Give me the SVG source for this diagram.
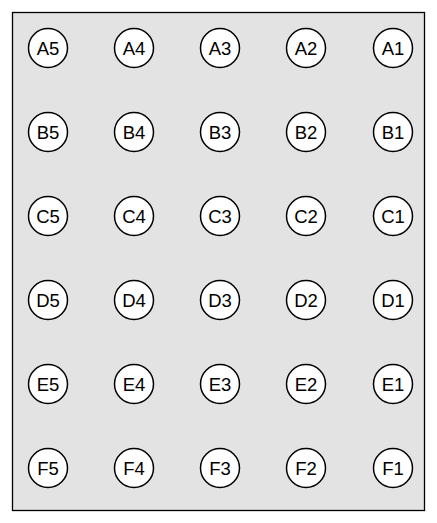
<svg xmlns="http://www.w3.org/2000/svg" width="437" height="523" viewBox="0 0 437 523">
<style>
.n circle{fill:#fff;stroke:#000;stroke-width:1.5}
.n text{font-family:"Liberation Sans",Arial,sans-serif;font-size:18.5px;fill:#000;text-anchor:middle;dominant-baseline:central}
</style>
<rect x="12.5" y="12.5" width="412" height="498" fill="#e3e3e3" stroke="#000" stroke-width="1.3"/>
<g id="connectors"/>
<g id="A5" class="n"><circle cx="48" cy="48" r="19.5"/><text x="48" y="48">A5</text></g>
<g id="A4" class="n"><circle cx="134" cy="48" r="19.5"/><text x="134" y="48">A4</text></g>
<g id="A3" class="n"><circle cx="220" cy="48" r="19.5"/><text x="220" y="48">A3</text></g>
<g id="A2" class="n"><circle cx="306" cy="48" r="19.5"/><text x="306" y="48">A2</text></g>
<g id="A1" class="n"><circle cx="393" cy="48" r="19.5"/><text x="393" y="48">A1</text></g>
<g id="B5" class="n"><circle cx="48" cy="132" r="19.5"/><text x="48" y="132">B5</text></g>
<g id="B4" class="n"><circle cx="134" cy="132" r="19.5"/><text x="134" y="132">B4</text></g>
<g id="B3" class="n"><circle cx="220" cy="132" r="19.5"/><text x="220" y="132">B3</text></g>
<g id="B2" class="n"><circle cx="306" cy="132" r="19.5"/><text x="306" y="132">B2</text></g>
<g id="B1" class="n"><circle cx="393" cy="132" r="19.5"/><text x="393" y="132">B1</text></g>
<g id="C5" class="n"><circle cx="48" cy="216" r="19.5"/><text x="48" y="216">C5</text></g>
<g id="C4" class="n"><circle cx="134" cy="216" r="19.5"/><text x="134" y="216">C4</text></g>
<g id="C3" class="n"><circle cx="220" cy="216" r="19.5"/><text x="220" y="216">C3</text></g>
<g id="C2" class="n"><circle cx="306" cy="216" r="19.5"/><text x="306" y="216">C2</text></g>
<g id="C1" class="n"><circle cx="393" cy="216" r="19.5"/><text x="393" y="216">C1</text></g>
<g id="D5" class="n"><circle cx="48" cy="300" r="19.5"/><text x="48" y="300">D5</text></g>
<g id="D4" class="n"><circle cx="134" cy="300" r="19.5"/><text x="134" y="300">D4</text></g>
<g id="D3" class="n"><circle cx="220" cy="300" r="19.5"/><text x="220" y="300">D3</text></g>
<g id="D2" class="n"><circle cx="306" cy="300" r="19.5"/><text x="306" y="300">D2</text></g>
<g id="D1" class="n"><circle cx="393" cy="300" r="19.5"/><text x="393" y="300">D1</text></g>
<g id="E5" class="n"><circle cx="48" cy="384" r="19.5"/><text x="48" y="384">E5</text></g>
<g id="E4" class="n"><circle cx="134" cy="384" r="19.5"/><text x="134" y="384">E4</text></g>
<g id="E3" class="n"><circle cx="220" cy="384" r="19.5"/><text x="220" y="384">E3</text></g>
<g id="E2" class="n"><circle cx="306" cy="384" r="19.5"/><text x="306" y="384">E2</text></g>
<g id="E1" class="n"><circle cx="393" cy="384" r="19.5"/><text x="393" y="384">E1</text></g>
<g id="F5" class="n"><circle cx="48" cy="468" r="19.5"/><text x="48" y="468">F5</text></g>
<g id="F4" class="n"><circle cx="134" cy="468" r="19.5"/><text x="134" y="468">F4</text></g>
<g id="F3" class="n"><circle cx="220" cy="468" r="19.5"/><text x="220" y="468">F3</text></g>
<g id="F2" class="n"><circle cx="306" cy="468" r="19.5"/><text x="306" y="468">F2</text></g>
<g id="F1" class="n"><circle cx="393" cy="468" r="19.5"/><text x="393" y="468">F1</text></g>
</svg>
